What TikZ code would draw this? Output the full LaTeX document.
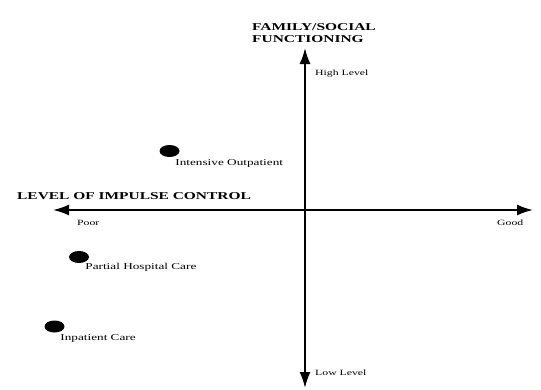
\documentclass[tikz,border=0pt]{standalone}
\usepackage{fontspec}
\setmainfont{Liberation Serif}[FakeStretch=1.47]
\usepackage{tikz}
\usetikzlibrary{positioning,arrows.meta,shapes.geometric}
\tikzset{
axis/.style={{Latex[length=16pt,width=11pt]}-{Latex[length=16pt,width=11pt]},line width=1.8pt,black},
heading/.style={font=\fontsize{10.5}{12}\selectfont\bfseries,inner sep=0pt,align=left},
endlabel/.style={font=\fontsize{8}{9}\selectfont,inner sep=0pt},
caredot/.style={ellipse,fill=black,minimum width=20pt,minimum height=12pt,inner sep=0pt},
caretext/.style={font=\fontsize{9}{10}\selectfont,inner sep=0pt}
}

\begin{document}
\begin{tikzpicture}[x=1pt,y=-1pt]
\useasboundingbox (0,0) rectangle (541,389);
% axes
\coordinate (top) at (305,48);
\coordinate (bottom) at (305,388);
\coordinate (left) at (53,210);
\coordinate (right) at (533,210);
\draw[axis] (bottom) -- (top);
\draw[axis] (left) -- (right);
% axis titles and ends
\node[heading,anchor=north west] (famsocial) at (252,23) {FAMILY/SOCIAL\\FUNCTIONING};
\node[heading,anchor=west] (impulse) at (17,196.5) {LEVEL OF IMPULSE CONTROL};
\node[endlabel,anchor=west] (high) at (315,74) {High Level};
\node[endlabel,anchor=west] (low) at (315,372.5) {Low Level};
\node[endlabel,anchor=west] (poor) at (77,222.5) {Poor};
\node[endlabel,anchor=west] (good) at (497,222.5) {Good};
% levels of care
\node[caredot] (intensive) at (169.5,151) {};
\node[caretext,below right=4pt and -1.5pt of intensive] (intensivetxt) {Intensive Outpatient};
\node[caredot] (partial) at (79,257) {};
\node[caretext,below right=2pt and -1pt of partial] (partialtxt) {Partial Hospital Care};
\node[caredot] (inpatient) at (54.5,326.5) {};
\node[caretext,below right=3pt and -1.5pt of inpatient] (inpatienttxt) {Inpatient Care};
\end{tikzpicture}
\end{document}
